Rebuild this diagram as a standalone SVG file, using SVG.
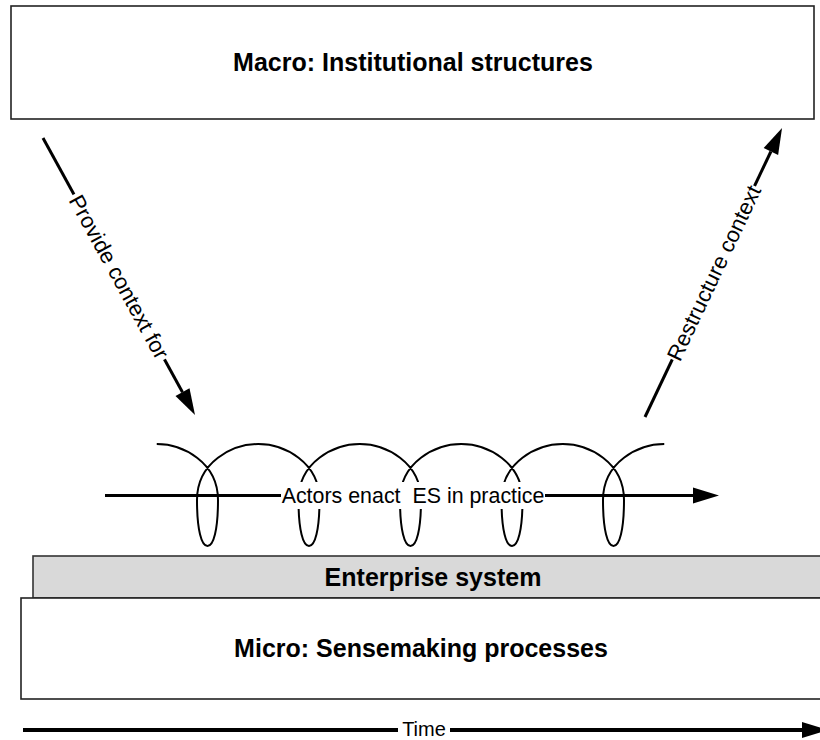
<svg xmlns="http://www.w3.org/2000/svg" width="820" height="740" viewBox="0 0 820 740">
<style>
  .box { fill: #ffffff; stroke: #222; stroke-width: 1.6; }
  .es { fill: #d9d9d9; stroke: #333; stroke-width: 1.6; }
  .title { font-family: "Liberation Sans", Arial, sans-serif; font-weight: bold; font-size: 25px; fill: #000; text-anchor: middle; dominant-baseline: central; }
  .lbl { font-family: "Liberation Sans", Arial, sans-serif; font-size: 22px; fill: #000; text-anchor: middle; dominant-baseline: central; white-space: pre; }
  .conn { stroke: #000; stroke-width: 3; fill: none; }
  .loop { stroke: #000; stroke-width: 2; fill: none; }
  .bg { fill: #ffffff; stroke: none; }
</style>
<defs>
  <marker id="ah" markerUnits="userSpaceOnUse" markerWidth="26" markerHeight="16" viewBox="0 -8 26 16" refX="0" refY="0" orient="auto" overflow="visible">
    <path d="M0,-8 L26,0 L0,8 z" fill="#000"/>
  </marker>
</defs>

<g id="macro">
  <rect class="box" x="11" y="6" width="803" height="113"/>
  <text class="title" x="413" y="62">Macro: Institutional structures</text>
</g>

<g id="enterprise-system">
  <rect class="es" x="33" y="556" width="800" height="42"/>
  <text class="title" x="433" y="577">Enterprise system</text>
</g>

<g id="micro">
  <rect class="box" x="21" y="598" width="800" height="101"/>
  <text class="title" x="421" y="648">Micro: Sensemaking processes</text>
</g>

<g id="loops">
  <path class="loop" d="M156.75,444
    C182.5,444 218,462 218,500 C218,530 213.5,546 207.5,546 C201.5,546 197,530 197,500 C197,462 232.5,444 258.25,444
    C284,444 319.5,462 319.5,500 C319.5,530 315,546 309,546 C303,546 298.5,530 298.5,500 C298.5,462 334,444 359.75,444
    C385.5,444 421,462 421,500 C421,530 416.5,546 410.5,546 C404.5,546 400,530 400,500 C400,462 435.5,444 461.25,444
    C487,444 522.5,462 522.5,500 C522.5,530 518,546 512,546 C506,546 501.5,530 501.5,500 C501.5,462 537,444 562.75,444
    C588.5,444 624,462 624,500 C624,530 619.5,546 613.5,546 C607.5,546 603,530 603,500 C603,462 638.5,444 664.25,444"/>
</g>

<g id="connectors">
  <g id="provide-context">
    <line class="conn" x1="43" y1="138" x2="182.5" y2="392.2" marker-end="url(#ah)"/>
    <g transform="translate(119,277) rotate(61.25)">
      <rect class="bg" x="-94" y="-12" width="188" height="24"/>
      <text class="lbl" x="0" y="0">Provide context for</text>
    </g>
  </g>
  <g id="restructure-context">
    <line class="conn" x1="645" y1="417" x2="770.9" y2="151.5" marker-end="url(#ah)"/>
    <g transform="translate(714,273) rotate(-64.64)">
      <rect class="bg" x="-96" y="-12" width="192" height="24"/>
      <text class="lbl" x="0" y="0">Restructure context</text>
    </g>
  </g>
  <g id="actors-enact">
    <line class="conn" x1="105" y1="495.5" x2="693" y2="495.5" marker-end="url(#ah)"/>
    <rect class="bg" x="281" y="482" width="264" height="27"/>
    <text class="lbl" x="413" y="495.5" style="font-size:21.4px">Actors enact  ES in practice</text>
  </g>
  <g id="time">
    <line class="conn" x1="23" y1="730" x2="802" y2="730" style="stroke-width:4" marker-end="url(#ah)"/>
    <rect class="bg" x="398" y="719" width="52" height="21"/>
    <text class="lbl" x="424" y="729" style="font-size:20px">Time</text>
  </g>
</g>
</svg>
